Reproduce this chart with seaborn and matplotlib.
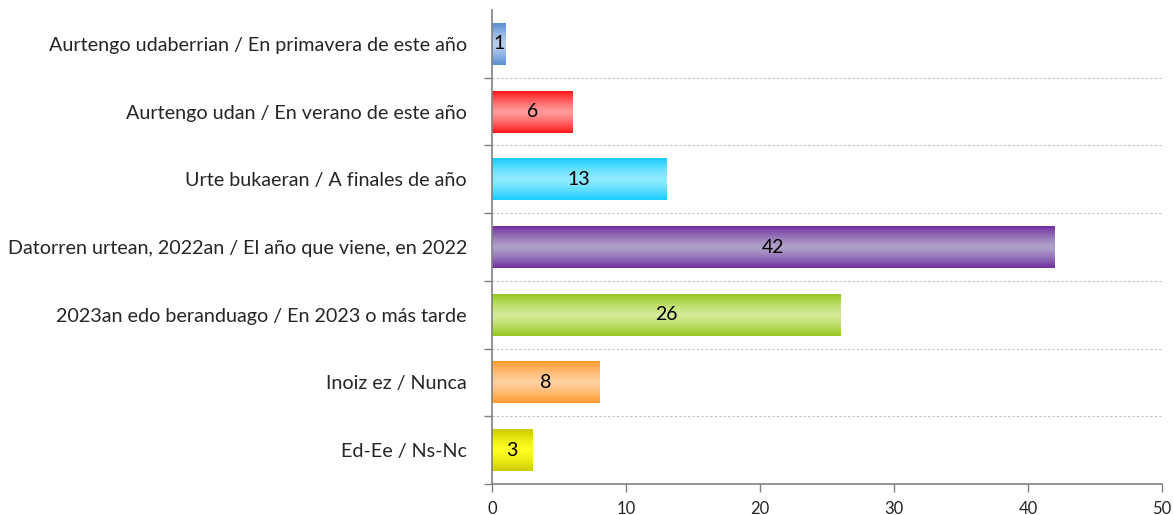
import matplotlib
matplotlib.use("Agg")
import matplotlib.pyplot as plt
import seaborn as sns
import numpy as np
import pandas as pd
from matplotlib.colors import to_rgb

categories = [
    "Aurtengo udaberrian / En primavera de este año",
    "Aurtengo udan / En verano de este año",
    "Urte bukaeran / A finales de año",
    "Datorren urtean, 2022an / El año que viene, en 2022",
    "2023an edo beranduago / En 2023 o más tarde",
    "Inoiz ez / Nunca",
    "Ed-Ee / Ns-Nc",
]
values = [1, 6, 13, 42, 26, 8, 3]
edge_colors = ["#5A8ED4", "#FF1A1A", "#1ACCFF", "#7030A0", "#96C81E", "#FF9A2E", "#CCCC00"]
mid_colors = ["#B8D0F0", "#FF9A9A", "#90ECFF", "#B0A0C8", "#D4EC98", "#FFD0A0", "#FFFF22"]

sns.set_theme(style="white")
plt.rcParams['font.family'] = ['Lato', 'DejaVu Sans']

df = pd.DataFrame({"cat": categories, "val": values})
fig = plt.figure(figsize=(11.73, 5.15), dpi=100)
ax = fig.add_axes([492/1173, 1 - 484/515, (1162-492)/1173, (484-10)/515])
sns.barplot(data=df, y="cat", x="val", orient="h", ax=ax, width=0.62,
            palette=mid_colors, hue="cat", legend=False, saturation=1)

ax.set_xlim(0, 50)
ax.set_ylim(len(categories) - 0.5, -0.5)
for i, p in enumerate(ax.patches):
    x0, y0 = p.get_x(), p.get_y()
    w, h = p.get_width(), p.get_height()
    e = np.array(to_rgb(edge_colors[i]))
    m = np.array(to_rgb(mid_colors[i]))
    t = np.linspace(0, 1, 64)
    f = (np.abs(t - 0.5) * 2) ** 1.3
    grad = m[None, :] * (1 - f[:, None]) + e[None, :] * f[:, None]
    img = np.repeat(grad[:, None, :], 2, axis=1)
    im = ax.imshow(img, extent=[x0, x0 + w, y0 + h, y0], aspect="auto", zorder=2, interpolation="bilinear")
    im.set_clip_path(p)
    p.set_edgecolor("none")
    ax.text(w / 2, i, str(values[i]), ha="center", va="center", fontsize=14, color="black", zorder=3)
ax.set_xlim(0, 50)
ax.set_ylim(len(categories) - 0.5, -0.5)

ax.set_xlabel("")
ax.set_ylabel("")
ax.set_xticks(range(0, 51, 10))
ax.tick_params(axis="x", labelsize=12, length=6, width=1, color="#808080", direction="out", bottom=True, pad=6)
ax.set_yticks(range(len(categories)))
ax.set_yticklabels(categories, fontsize=14.2)
ax.tick_params(axis="y", length=0, pad=18)
# boundary ticks & grid
bounds = np.arange(0.5, len(categories) - 0.5, 1)
for b in bounds:
    ax.axhline(b, color="#BFBFBF", lw=0.8, ls=(0, (2, 2)), zorder=0)
ax.set_yticks(list(bounds) + [len(categories) - 0.5], minor=True)
ax.tick_params(axis="y", which="minor", length=6, width=1, color="#808080", left=True)

for s in ["top", "right"]:
    ax.spines[s].set_visible(False)
for s in ["left", "bottom"]:
    ax.spines[s].set_color("#808080")
    ax.spines[s].set_linewidth(1.2)

fig.savefig("out.png", dpi=100, facecolor="white")
